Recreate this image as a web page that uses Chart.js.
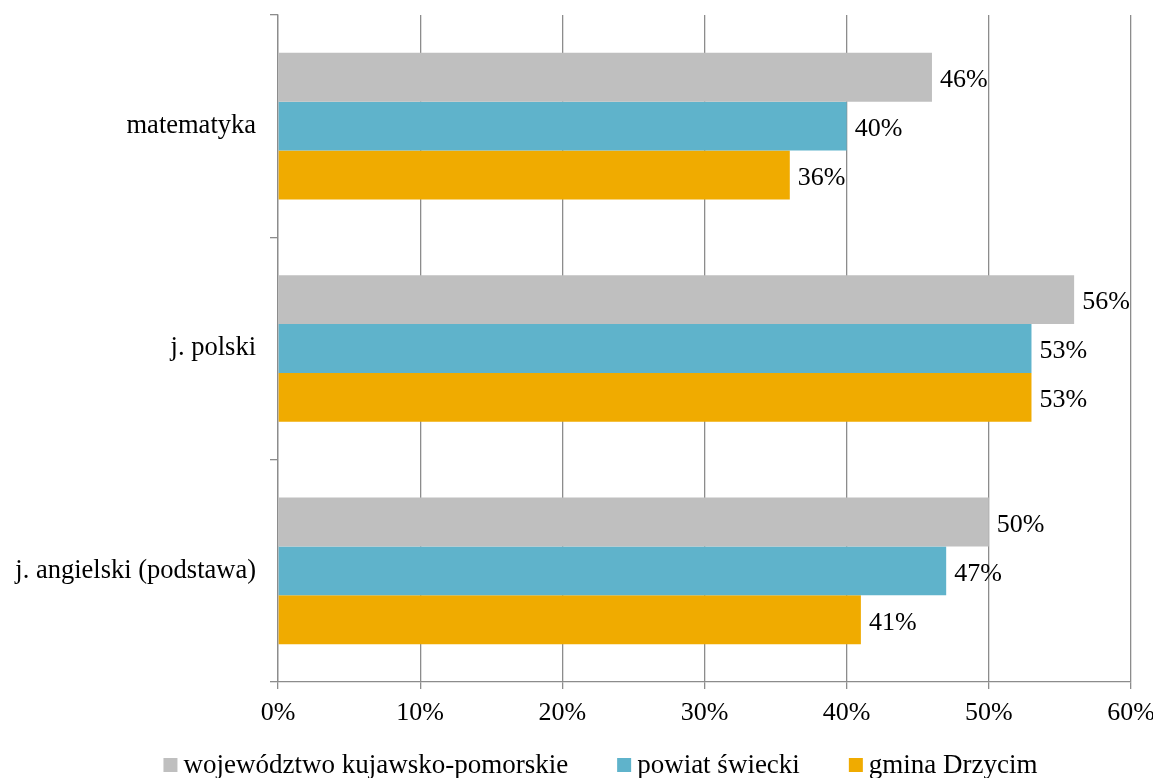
<!DOCTYPE html>
<html>
<head>
<meta charset="utf-8">
<script src="https://cdn.jsdelivr.net/npm/chart.js@4/dist/chart.umd.min.js"></script>
<style>
  html, body { margin: 0; padding: 0; background: #fff; }
  #wrap { width: 1153px; height: 778px; }
</style>
</head>
<body>
<div id="wrap"><canvas id="wykres"></canvas></div>
<script>
// dane
const przedmioty = ['matematyka', 'j. polski', 'j. angielski (podstawa)'];
const wojewodztwo = [46, 56, 50];
const powiat = [40, 53, 47];
const gmina = [36, 53, 41];
const nazwySerii = ['województwo kujawsko-pomorskie', 'powiat świecki', 'gmina Drzycim'];
const osX = [0, 10, 20, 30, 40, 50, 60];

const rodzina = '"Liberation Serif", "Times New Roman", serif';
const czcionka = { family: rodzina, size: 26 };
const szary = '#8c8c8c';

// etykiety wartości za końcem słupka
const etykiety = {
  id: 'etykiety',
  afterDatasetsDraw(chart) {
    const ctx = chart.ctx;
    ctx.save();
    ctx.font = czcionka.size + 'px ' + rodzina;
    ctx.fillStyle = '#000';
    ctx.textBaseline = 'middle';
    ctx.textAlign = 'left';
    chart.data.datasets.forEach((ds, i) => {
      chart.getDatasetMeta(i).data.forEach((bar, j) => {
        ctx.fillText(ds.data[j] + '%', bar.x + 8, bar.y + 3);
      });
    });
    ctx.restore();
  }
};

// legenda rysowana ręcznie pod osią (jak w Excelu)
const legenda = {
  id: 'legenda',
  afterDraw(chart) {
    const ctx = chart.ctx;
    ctx.save();
    ctx.font = '27px ' + rodzina;
    ctx.textBaseline = 'middle';
    const kw = 14, odstep = 6, przerwa = 49;
    const szer = chart.data.datasets.map(ds => kw + odstep + ctx.measureText(ds.label).width);
    const calosc = szer.reduce((a, b) => a + b, 0) + przerwa * (szer.length - 1);
    let x = chart.width / 2 + 24 - calosc / 2;
    const y = 765;
    chart.data.datasets.forEach((ds, i) => {
      ctx.fillStyle = ds.backgroundColor;
      ctx.fillRect(x, y - kw / 2, kw, kw);
      ctx.fillStyle = '#000';
      ctx.fillText(ds.label, x + kw + odstep, y + 1);
      x += szer[i] + przerwa;
    });
    ctx.restore();
  }
};

new Chart(document.getElementById('wykres'), {
  type: 'bar',
  data: {
    labels: przedmioty,
    datasets: [
      { label: nazwySerii[0], data: wojewodztwo, backgroundColor: '#BFBFBF' },
      { label: nazwySerii[1], data: powiat, backgroundColor: '#5FB3CB' },
      { label: nazwySerii[2], data: gmina, backgroundColor: '#F0AB00' }
    ]
  },
  options: {
    indexAxis: 'y',
    responsive: true,
    maintainAspectRatio: false,
    animation: false,
    devicePixelRatio: 1,
    categoryPercentage: 0.66,
    barPercentage: 1,
    layout: { padding: { top: 15, right: 22, left: 0, bottom: 56 } },
    scales: {
      x: {
        min: 0,
        max: 60,
        afterBuildTicks(scale) { scale.ticks = osX.map(v => ({ value: v })); },
        afterFit(scale) { scale.height = 40; scale.paddingRight = 0; scale.paddingLeft = 0; },
        ticks: { color: '#000', font: czcionka, padding: 9, callback: v => v + '%', maxRotation: 0 },
        grid: { color: szary, lineWidth: 1.3, tickLength: 7, drawTicks: true },
        border: { color: szary, width: 1.3 }
      },
      y: {
        afterFit(scale) { scale.width = 278; scale.paddingTop = 0; scale.paddingBottom = 0; },
        ticks: { color: '#000', font: { family: rodzina, size: 26.5 }, padding: 14 },
        grid: { offset: true, drawOnChartArea: false, color: szary, lineWidth: 1.3, tickLength: 8 },
        border: { color: szary, width: 1.3 }
      }
    },
    plugins: {
      legend: { display: false },
      tooltip: { enabled: false }
    }
  },
  plugins: [etykiety, legenda]
});
</script>
</body>
</html>
